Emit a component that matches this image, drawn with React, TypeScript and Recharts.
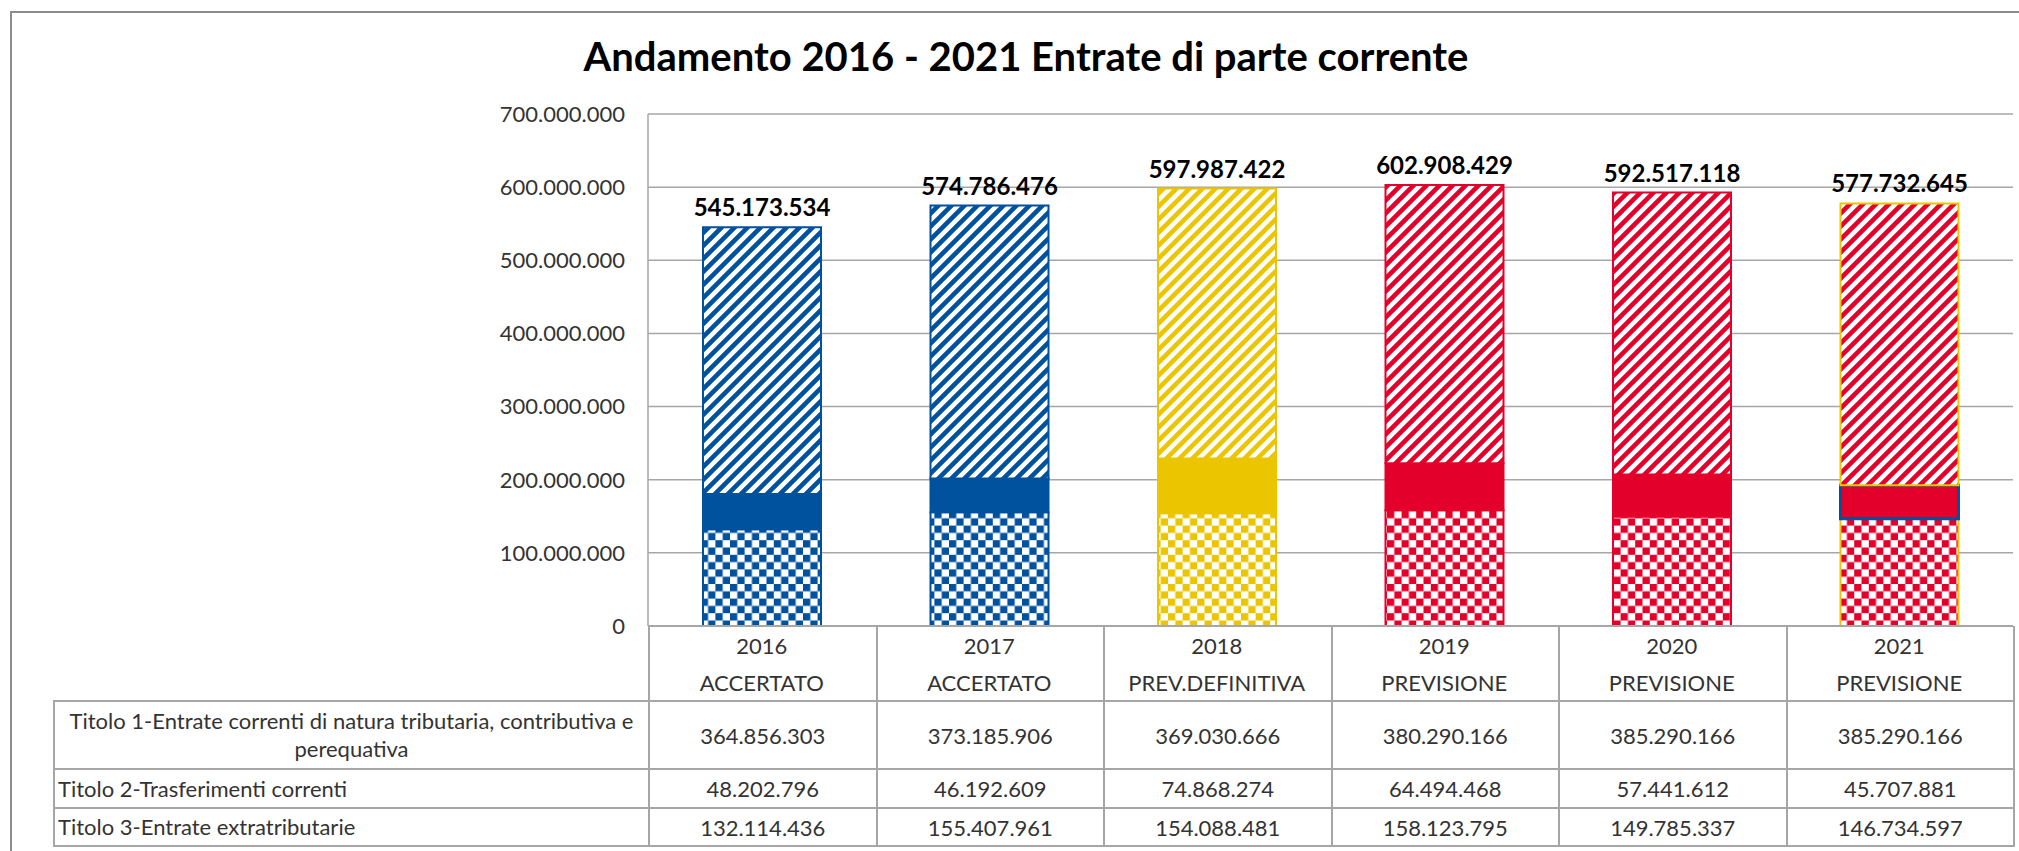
import React from 'react'
import { BarChart, Bar, XAxis, YAxis, CartesianGrid, Cell, LabelList } from 'recharts'

const years = ['2016', '2017', '2018', '2019', '2020', '2021']
const phases = ['ACCERTATO', 'ACCERTATO', 'PREV.DEFINITIVA', 'PREVISIONE', 'PREVISIONE', 'PREVISIONE']
const titolo1 = [364856303, 373185906, 369030666, 380290166, 385290166, 385290166]
const titolo2 = [48202796, 46192609, 74868274, 64494468, 57441612, 45707881]
const titolo3 = [132114436, 155407961, 154088481, 158123795, 149785337, 146734597]
const totals = [545173534, 574786476, 597987422, 602908429, 592517118, 577732645]
const yTicks = [0, 100000000, 200000000, 300000000, 400000000, 500000000, 600000000, 700000000]
const rowLabels = [
  'Titolo 1-Entrate correnti di natura tributaria, contributiva e|perequativa',
  'Titolo 2-Trasferimenti correnti',
  'Titolo 3-Entrate extratributarie',
]
const title = 'Andamento 2016 - 2021 Entrate di parte corrente'

// colours per column (the 2021 bar mixes them in the original)
const COLORS: Record<string, string> = { blue: '#00519E', yellow: '#EBC600', red: '#E3002B' }
const fillTheme = ['blue', 'blue', 'yellow', 'red', 'red', 'red']
const stroke1 = ['blue', 'blue', 'yellow', 'red', 'red', 'yellow']
const stroke2 = ['blue', 'blue', 'yellow', 'red', 'red', 'blue']
const stroke3 = ['blue', 'blue', 'yellow', 'red', 'red', 'yellow']

const W = 2019
const H = 851
const PLOT_LEFT = 648
const PLOT_RIGHT = 2013
const PLOT_TOP = 114
const AXIS_Y = 626
const HEADER_H = 75
const TABLE_LEFT = 53
const ROW_H = [68, 39, 38]
const FONT = 'Lato, "Open Sans", sans-serif'
const GRID = '#A6A6A6'

const data = years.map((year, i) => ({
  year,
  t1: titolo1[i],
  t2: titolo2[i],
  t3: titolo3[i],
  total: totals[i],
}))

const fmt = (v: number) => String(v).replace(/\B(?=(\d{3})+(?!\d))/g, '.')

function Patterns() {
  return (
    <svg width={0} height={0} style={{ position: 'absolute' }}>
      <defs>
        {Object.entries(COLORS).map(([k, c]) => (
          <React.Fragment key={k}>
            <pattern id={`stripe-${k}`} patternUnits="userSpaceOnUse" width={13} height={13}>
              <rect width={13} height={13} fill="#fff" />
              <path d="M-3.25,3.25 L3.25,-3.25 M0,13 L13,0 M9.75,16.25 L16.25,9.75" stroke={c} strokeWidth={4.6} />
            </pattern>
            <pattern id={`check-${k}`} patternUnits="userSpaceOnUse" width={14.6} height={14.6}>
              <rect width={14.6} height={14.6} fill="#fff" />
              <rect width={7.3} height={7.3} fill={c} />
              <rect x={7.3} y={7.3} width={7.3} height={7.3} fill={c} />
            </pattern>
          </React.Fragment>
        ))}
      </defs>
    </svg>
  )
}

function CatTick(props: any) {
  const { x, y, payload } = props
  const i = years.indexOf(payload.value)
  return (
    <g fontFamily={FONT} fontSize={22} fill="#333">
      <text x={x} y={y + 20} dy="0.35em" textAnchor="middle">{years[i]}</text>
      <text x={x} y={y + 57} dy="0.35em" textAnchor="middle">{phases[i]}</text>
    </g>
  )
}

function DataTable() {
  const colW = (PLOT_RIGHT - PLOT_LEFT) / years.length
  const border = `2px solid ${GRID}`
  const series = [titolo1, titolo2, titolo3]
  return (
    <table
      style={{
        position: 'absolute', left: TABLE_LEFT, top: AXIS_Y, borderCollapse: 'collapse', tableLayout: 'fixed',
        width: PLOT_RIGHT - TABLE_LEFT, fontFamily: FONT, fontSize: 22, color: '#333',
      }}
    >
      <colgroup>
        <col style={{ width: PLOT_LEFT - TABLE_LEFT }} />
        {years.map((y) => <col key={y} style={{ width: colW }} />)}
      </colgroup>
      <tbody>
        <tr style={{ height: HEADER_H }}>
          <td style={{ padding: 0 }} />
          {years.map((y) => (
            <td key={y} style={{ borderLeft: border, borderRight: border, padding: 0 }} />
          ))}
        </tr>
        {series.map((vals, r) => {
          const lines = rowLabels[r].split('|')
          return (
            <tr key={r} style={{ height: ROW_H[r] }}>
              <td
                style={{
                  border, padding: '0 3px', whiteSpace: 'nowrap', lineHeight: '28px',
                  textAlign: lines.length > 1 ? 'center' : 'left', verticalAlign: 'middle',
                }}
              >
                {lines.map((l, k) => <div key={k}>{l}</div>)}
              </td>
              {vals.map((v, i) => (
                <td key={i} style={{ border, padding: 0, textAlign: 'center', verticalAlign: 'middle' }}>{fmt(v)}</td>
              ))}
            </tr>
          )
        })}
      </tbody>
    </table>
  )
}

export default function App() {
  return (
    <div style={{ position: 'absolute', left: 0, top: 0, width: W, height: H, overflow: 'hidden', background: '#fff' }}>
      <Patterns />
      <div
        style={{
          position: 'absolute', left: 10, top: 11, width: W + 100, height: H + 100,
          border: '2px solid #8C8C8C', boxSizing: 'border-box',
        }}
      />
      <svg width={W} height={100} style={{ position: 'absolute', left: 0, top: 0 }}>
        <text x={1026} y={71} textAnchor="middle" fontFamily={FONT} fontWeight={700} fontSize={40} fill="#000">
          {title}
        </text>
      </svg>
      <div style={{ position: 'absolute', left: 0, top: 0 }}>
        <BarChart
          width={W}
          height={H}
          data={data}
          margin={{ top: PLOT_TOP, right: W - PLOT_RIGHT, bottom: H - AXIS_Y - HEADER_H, left: 0 }}
          barSize={118}
        >
          <CartesianGrid vertical={false} stroke={GRID} strokeWidth={1.5} />
          <XAxis
            dataKey="year"
            height={HEADER_H}
            tickLine={false}
            tickSize={0}
            tickMargin={0}
            interval={0}
            axisLine={{ stroke: GRID, strokeWidth: 2 }}
            tick={<CatTick />}
          />
          <YAxis
            width={PLOT_LEFT}
            domain={[0, 700000000]}
            ticks={yTicks}
            interval={0}
            tickLine={false}
            tickSize={0}
            tickMargin={23}
            axisLine={{ stroke: GRID, strokeWidth: 1.5 }}
            tickFormatter={fmt}
            tick={{ fontSize: 22, fill: '#333', fontFamily: FONT }}
          />
          <Bar dataKey="t3" stackId="a" isAnimationActive={false}>
            {years.map((y, i) => (
              <Cell key={y} fill={`url(#check-${fillTheme[i]})`} stroke={COLORS[stroke3[i]]} strokeWidth={2} />
            ))}
          </Bar>
          <Bar dataKey="t2" stackId="a" isAnimationActive={false}>
            {years.map((y, i) => (
              <Cell
                key={y}
                fill={COLORS[fillTheme[i]]}
                stroke={COLORS[stroke2[i]]}
                strokeWidth={stroke2[i] !== fillTheme[i] ? 3 : 2}
              />
            ))}
          </Bar>
          <Bar dataKey="t1" stackId="a" isAnimationActive={false}>
            {years.map((y, i) => (
              <Cell key={y} fill={`url(#stripe-${fillTheme[i]})`} stroke={COLORS[stroke1[i]]} strokeWidth={2} />
            ))}
            <LabelList
              dataKey="total"
              position="top"
              offset={11}
              formatter={(v: any) => fmt(Number(v))}
              fill="#000"
              fontSize={24}
              fontWeight={700}
              fontFamily={FONT}
            />
          </Bar>
        </BarChart>
      </div>
      <DataTable />
    </div>
  )
}
